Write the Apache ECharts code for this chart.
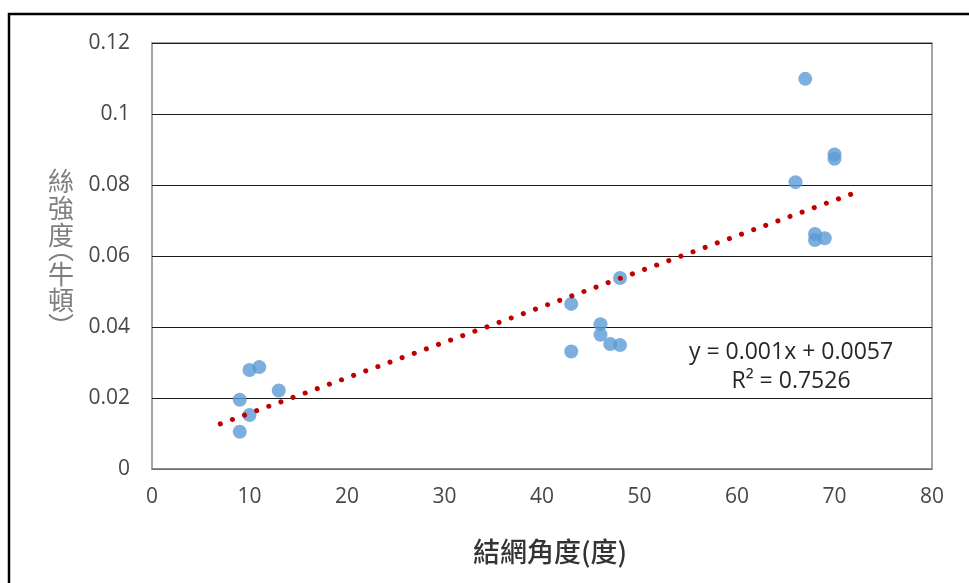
<!DOCTYPE html>
<html>
<head>
<meta charset="utf-8">
<script src="https://cdn.jsdelivr.net/npm/echarts@6/dist/echarts.min.js"></script>
<style>
  html, body { margin: 0; padding: 0; background: #fff; }
  #chart { width: 969px; height: 583px; }
</style>
</head>
<body>
<div id="chart"></div>
<script>
// Web angle (degrees) vs. silk strength (newtons)
const angles = [9, 9, 10, 10, 11, 13, 43, 43, 46, 46, 47, 48, 48, 67, 66, 70, 70, 68, 68, 69];
const strengths = [0.0105, 0.0195, 0.0152, 0.0279, 0.0287, 0.0221, 0.0465, 0.0331, 0.0408, 0.0378, 0.0352, 0.0349, 0.0538, 0.1099, 0.0808, 0.0886, 0.0874, 0.0662, 0.0645, 0.0650];

// Linear trendline as reported in the equation label
const slope = 0.001;
const intercept = 0.0057;
const rSquared = 0.7526;
const trendRange = [7, 72];

const xTicks = { min: 0, max: 80, interval: 10 };
const yTicks = { min: 0, max: 0.12, interval: 0.02 };

const points = angles.map((a, i) => [a, strengths[i]]);
const trend = trendRange.map(x => [x, slope * x + intercept]);

const chart = echarts.init(document.getElementById('chart'), null, { renderer: 'canvas' });

const tickFont = { fontFamily: 'Open Sans', fontSize: 21, color: '#474747' };
const cjk = '"Noto Sans CJK TC", "Noto Sans CJK SC", sans-serif';

// Vertical stacked axis title, using vertical-form brackets
const yTitle = [
  { t: '絲', y: 181 },
  { t: '強', y: 208 },
  { t: '度', y: 235 },
  { t: '︵', y: 249 },
  { t: '牛', y: 274 },
  { t: '頓', y: 300 },
  { t: '︶', y: 326 }
].map(c => ({
  type: 'text',
  x: 61, y: c.y,
  style: {
    text: c.t, x: 0, y: 0,
    align: 'center', verticalAlign: 'middle',
    font: '26px ' + cjk,
    fill: '#7f7f7f'
  }
}));

chart.setOption({
  animation: false,
  backgroundColor: '#ffffff',
  grid: {
    left: 152, top: 43, width: 780, height: 426,
    show: true, borderColor: '#868686', borderWidth: 1.5, backgroundColor: 'transparent'
  },
  xAxis: {
    type: 'value',
    min: xTicks.min, max: xTicks.max, interval: xTicks.interval,
    axisLine: { show: true, onZero: false, lineStyle: { color: '#868686', width: 1.5 } },
    axisTick: { show: false },
    splitLine: { show: false },
    axisLabel: Object.assign({ margin: 18 }, tickFont)
  },
  yAxis: {
    type: 'value',
    min: yTicks.min, max: yTicks.max, interval: yTicks.interval,
    axisLine: { show: false },
    axisTick: { show: false },
    splitLine: { show: true, lineStyle: { color: '#1a1a1a', width: 1 } },
    axisLabel: Object.assign({ margin: 22, formatter: v => String(+v.toFixed(2)) }, tickFont)
  },
  series: [
    {
      type: 'scatter',
      data: points,
      symbol: 'circle',
      symbolSize: 14,
      itemStyle: { color: '#5B9BD5' },
      z: 2
    },
    {
      type: 'line',
      data: trend,
      symbol: 'none',
      lineStyle: { color: '#C00000', width: 5, type: [0.1, 12.8], cap: 'round' },
      z: 3
    }
  ],
  graphic: [
    {
      type: 'rect',
      shape: { x: 9, y: 14, width: 1000, height: 700 },
      style: { fill: 'none', stroke: '#000', lineWidth: 2.5 },
      silent: true
    },
    {
      type: 'text',
      x: 791, y: 352,
      style: {
        text: 'y = ' + slope + 'x + ' + intercept,
        align: 'center', verticalAlign: 'middle',
        font: '23px "Open Sans"', fill: '#262626'
      }
    },
    {
      type: 'text',
      x: 791, y: 381,
      style: {
        text: 'R² = ' + rSquared,
        align: 'center', verticalAlign: 'middle',
        font: '23px "Open Sans"', fill: '#262626'
      }
    },
    {
      type: 'text',
      x: 550, y: 552,
      style: {
        text: '結網角度(度)',
        align: 'center', verticalAlign: 'middle',
        font: '500 27px ' + cjk, fill: '#333333'
      }
    }
  ].concat(yTitle)
});
</script>
</body>
</html>
